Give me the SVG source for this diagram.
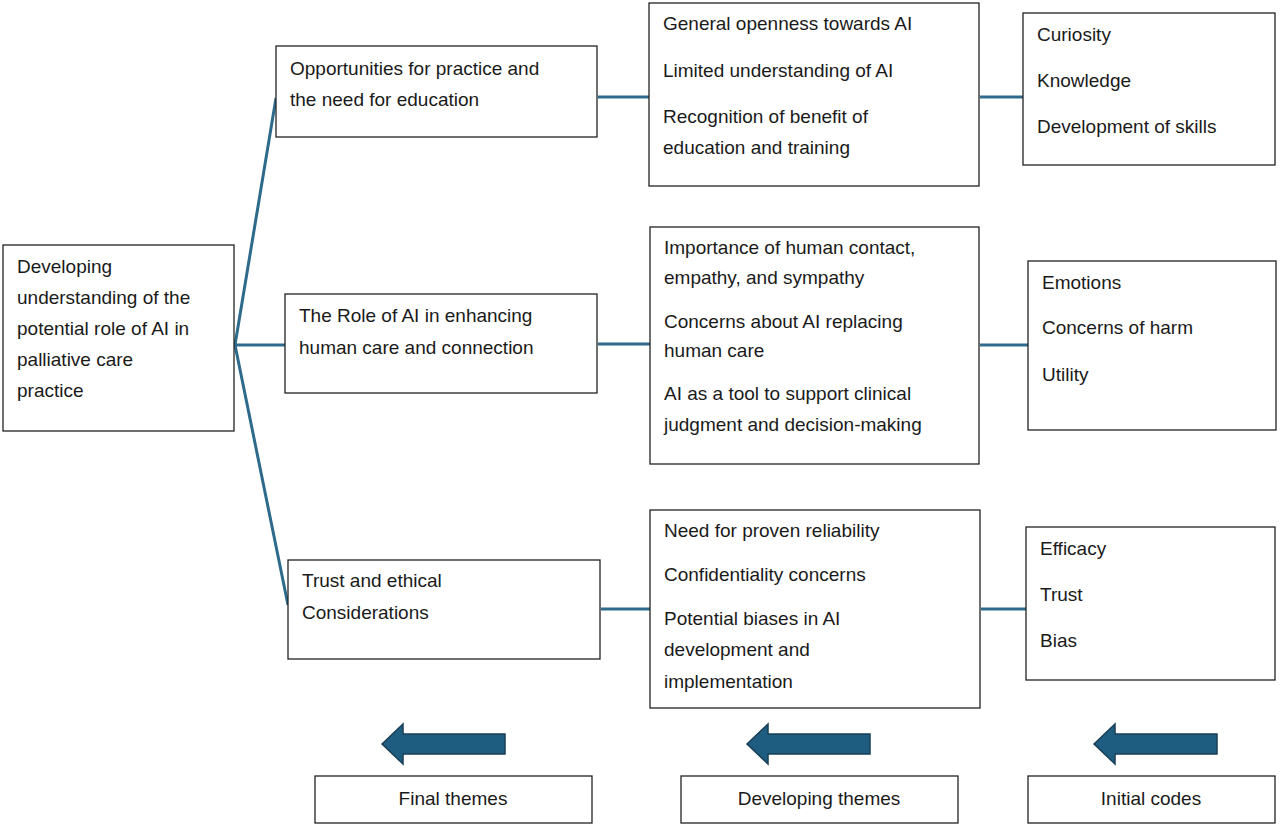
<svg xmlns="http://www.w3.org/2000/svg" width="1280" height="828" viewBox="0 0 1280 828">
<style>
rect.b{fill:#fff;stroke:#222;stroke-width:1.3}
text{font-family:"Liberation Sans",Arial,sans-serif;font-size:19px;fill:#1a1a1a}
.c{stroke:#2d6a8c;stroke-width:3;fill:none}
.ar{fill:#1f5d80;stroke:#173f57;stroke-width:1.5}
</style>
<rect width="1280" height="828" fill="#fff"/>
<g id="connectors">
<path class="c" d="M235 345 L276 98 M235 345 L285 345 M235 345 L288 605"/>
<path class="c" d="M598 97 H649 M980 97 H1023 M598 344 H650 M980 345 H1028 M601 609 H650 M981 609 H1026"/>
</g>
<g id="root"><rect class="b" x="3" y="245" width="231" height="186"/>
<text x="17" y="273">Developing</text><text x="17" y="304">understanding of the</text><text x="17" y="335">potential role of AI in</text><text x="17" y="366">palliative care</text><text x="17" y="397">practice</text></g>
<g id="t1"><rect class="b" x="276" y="46" width="321" height="91"/><text x="290" y="75">Opportunities for practice and</text><text x="290" y="106">the need for education</text></g>
<g id="t2"><rect class="b" x="285" y="294" width="312" height="99"/><text x="299" y="322">The Role of AI in enhancing</text><text x="299" y="354">human care and connection</text></g>
<g id="t3"><rect class="b" x="288" y="560" width="312" height="99"/><text x="302" y="587">Trust and ethical</text><text x="302" y="619">Considerations</text></g>
<g id="d1"><rect class="b" x="649" y="3" width="330" height="183"/><text x="663" y="30">General openness towards AI</text><text x="663" y="77">Limited understanding of AI</text><text x="663" y="123">Recognition of benefit of</text><text x="663" y="154">education and training</text></g>
<g id="d2"><rect class="b" x="650" y="227" width="329" height="237"/><text x="664" y="254">Importance of human contact,</text><text x="664" y="284">empathy, and sympathy</text><text x="664" y="328">Concerns about AI replacing</text><text x="664" y="357">human care</text><text x="664" y="400">AI as a tool to support clinical</text><text x="664" y="431">judgment and decision-making</text></g>
<g id="d3"><rect class="b" x="650" y="510" width="330" height="198"/><text x="664" y="537">Need for proven reliability</text><text x="664" y="581">Confidentiality concerns</text><text x="664" y="625">Potential biases in AI</text><text x="664" y="656">development and</text><text x="664" y="688">implementation</text></g>
<g id="c1"><rect class="b" x="1023" y="13" width="252" height="152"/><text x="1037" y="41">Curiosity</text><text x="1037" y="87">Knowledge</text><text x="1037" y="133">Development of skills</text></g>
<g id="c2"><rect class="b" x="1028" y="261" width="248" height="169"/><text x="1042" y="289">Emotions</text><text x="1042" y="334">Concerns of harm</text><text x="1042" y="381">Utility</text></g>
<g id="c3"><rect class="b" x="1026" y="527" width="249" height="153"/><text x="1040" y="555">Efficacy</text><text x="1040" y="601">Trust</text><text x="1040" y="647">Bias</text></g>
<g id="arrows">
<path class="ar" d="M382 744 L403 724 V734 H505 V754 H403 V764 Z"/>
<path class="ar" d="M747 744 L768 724 V734 H870 V754 H768 V764 Z"/>
<path class="ar" d="M1094 744 L1115 724 V734 H1217 V754 H1115 V764 Z"/>
</g>
<g id="l1"><rect class="b" x="315" y="776" width="277" height="47"/><text x="453" y="805" text-anchor="middle">Final themes</text></g>
<g id="l2"><rect class="b" x="681" y="776" width="277" height="47"/><text x="819" y="805" text-anchor="middle">Developing themes</text></g>
<g id="l3"><rect class="b" x="1028" y="776" width="247" height="47"/><text x="1151" y="805" text-anchor="middle">Initial codes</text></g>
</svg>
